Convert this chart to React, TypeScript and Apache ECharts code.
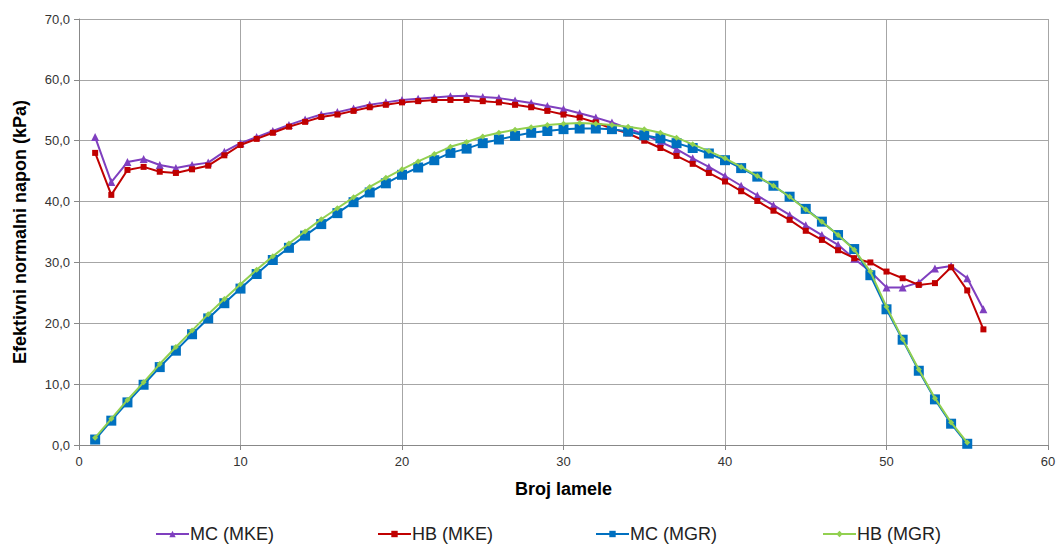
import React, { useEffect, useRef } from "react";
import * as echarts from "echarts";

const mcMKE = [50.6, 43.2, 46.5, 47.0, 46.0, 45.5, 46.0, 46.4, 48.2, 49.6, 50.6, 51.6, 52.6, 53.5, 54.3, 54.7, 55.3, 55.9, 56.3, 56.7, 56.9, 57.1, 57.3, 57.4, 57.2, 57.0, 56.6, 56.2, 55.7, 55.2, 54.5, 53.8, 53.0, 52.0, 51.0, 49.8, 48.6, 47.1, 45.7, 44.2, 42.6, 41.0, 39.4, 37.8, 36.1, 34.5, 32.9, 30.6, 28.5, 25.9, 25.9, 26.7, 29.0, 29.4, 27.4, 22.3];
const hbMKE = [48.0, 41.1, 45.2, 45.7, 44.9, 44.7, 45.3, 45.9, 47.6, 49.3, 50.3, 51.3, 52.3, 53.1, 53.9, 54.3, 54.9, 55.5, 55.9, 56.3, 56.5, 56.7, 56.7, 56.7, 56.5, 56.3, 55.9, 55.5, 54.9, 54.3, 53.8, 53.0, 52.0, 51.2, 50.0, 48.8, 47.5, 46.2, 44.7, 43.3, 41.7, 40.1, 38.5, 37.0, 35.2, 33.7, 32.0, 30.7, 30.0, 28.5, 27.4, 26.3, 26.6, 29.2, 25.4, 19.0];
const mcMGR = [0.9, 4.0, 7.0, 9.9, 12.8, 15.5, 18.2, 20.8, 23.3, 25.7, 28.1, 30.4, 32.4, 34.4, 36.3, 38.1, 39.9, 41.5, 43.0, 44.4, 45.6, 46.8, 48.0, 48.7, 49.6, 50.2, 50.8, 51.3, 51.6, 51.9, 52.0, 52.0, 51.9, 51.5, 50.9, 50.4, 49.6, 48.8, 47.9, 46.8, 45.5, 44.1, 42.6, 40.8, 38.8, 36.7, 34.5, 32.2, 27.9, 22.3, 17.3, 12.2, 7.5, 3.5, 0.2];
const hbMGR = [1.2, 4.3, 7.4, 10.3, 13.3, 16.1, 18.8, 21.5, 24.0, 26.4, 28.8, 31.0, 33.1, 35.1, 37.1, 38.9, 40.7, 42.4, 43.9, 45.3, 46.6, 47.8, 49.0, 49.8, 50.7, 51.3, 51.8, 52.2, 52.6, 52.8, 52.9, 52.8, 52.6, 52.3, 51.9, 51.3, 50.5, 49.4, 48.3, 47.1, 45.7, 44.2, 42.6, 40.8, 38.7, 36.7, 34.5, 32.1, 28.5, 22.7, 17.4, 12.4, 7.7, 3.7, 0.4];

const seriesNames = ["MC (MKE)", "HB (MKE)", "MC (MGR)", "HB (MGR)"];
const xAxisTitle = "Broj lamele";
const yAxisTitle = "Efektivni normalni napon (kPa)";

const toPairs = (arr: number[]) => arr.map((v, i) => [i + 1, v]);

export default function App() {
  const ref = useRef<HTMLDivElement>(null);
  useEffect(() => {
    if (!ref.current) return;
    const chart = echarts.init(ref.current, undefined, { renderer: "svg" });
    const font = "'Liberation Sans', Arial, sans-serif";
    const legendLefts = [155, 377, 595, 822];
    chart.setOption({
      animation: false,
      backgroundColor: "#ffffff",
      textStyle: { fontFamily: font },
      grid: { left: 79, right: 11, top: 19, bottom: 100, containLabel: false },
      legend: seriesNames.map((n, i) => ({
        data: [n],
        left: legendLefts[i],
        top: 525,
        padding: 0,
        itemWidth: 33,
        itemHeight: 8,
        itemGap: 0,
        textStyle: { fontSize: 18, color: "#222", fontFamily: font, padding: [0, 0, 0, -4] },
      })),
      xAxis: {
        type: "value",
        min: 0,
        max: 60,
        interval: 10,
        name: xAxisTitle,
        nameLocation: "middle",
        nameGap: 35,
        nameTextStyle: { fontSize: 18, fontWeight: "bold", color: "#000", fontFamily: font },
        axisLine: { show: true, onZero: false, lineStyle: { color: "#888", width: 1 } },
        axisTick: { show: true, length: 5, lineStyle: { color: "#888" } },
        axisLabel: { fontSize: 13, color: "#333", margin: 10 },
        splitLine: { show: true, lineStyle: { color: "#a6a6a6", width: 1 } },
      },
      yAxis: {
        type: "value",
        min: 0,
        max: 70,
        interval: 10,
        name: yAxisTitle,
        nameLocation: "middle",
        nameGap: 50,
        nameTextStyle: { fontSize: 18, fontWeight: "bold", color: "#000", fontFamily: font },
        axisLine: { show: true, lineStyle: { color: "#888", width: 1 } },
        axisTick: { show: true, length: 5, lineStyle: { color: "#888" } },
        axisLabel: {
          fontSize: 13,
          color: "#333",
          margin: 9,
          formatter: (v: number) => v.toFixed(1).replace(".", ","),
        },
        splitLine: { show: true, lineStyle: { color: "#a6a6a6", width: 1 } },
      },
      series: [
        {
          name: seriesNames[0],
          type: "line",
          data: toPairs(mcMKE),
          symbol: "triangle",
          symbolSize: 8,
          lineStyle: { color: "#7F3FBF", width: 2 },
          itemStyle: { color: "#7F3FBF" },
          z: 2,
        },
        {
          name: seriesNames[1],
          type: "line",
          data: toPairs(hbMKE),
          symbol: "rect",
          symbolSize: 6,
          lineStyle: { color: "#C00000", width: 2 },
          itemStyle: { color: "#C00000" },
          z: 3,
        },
        {
          name: seriesNames[2],
          type: "line",
          data: toPairs(mcMGR),
          symbol: "rect",
          symbolSize: 10,
          lineStyle: { color: "#0070C0", width: 2 },
          itemStyle: { color: "#0070C0" },
          z: 4,
        },
        {
          name: seriesNames[3],
          type: "line",
          data: toPairs(hbMGR),
          symbol: "diamond",
          symbolSize: 6,
          lineStyle: { color: "#92D050", width: 2 },
          itemStyle: { color: "#92D050" },
          z: 5,
        },
      ],
    });
    return () => chart.dispose();
  }, []);
  return <div ref={ref} style={{ width: 1059, height: 545, position: "absolute", left: 0, top: 0 }} />;
}
